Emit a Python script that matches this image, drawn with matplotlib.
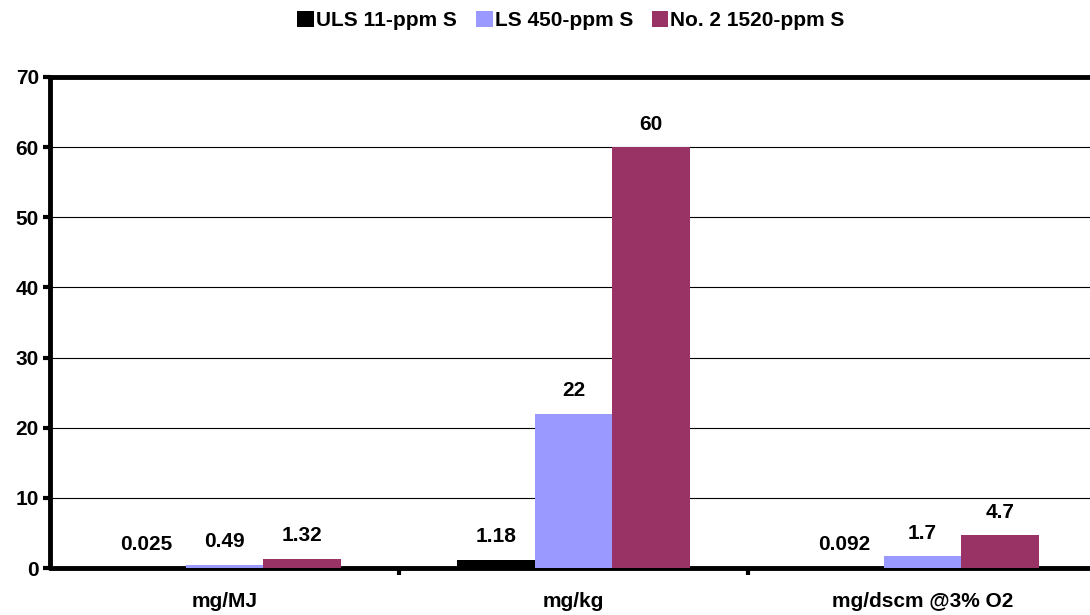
import numpy as np
import matplotlib
matplotlib.use('Agg')
import matplotlib.pyplot as plt

# data
categories = ['mg/MJ', 'mg/kg', 'mg/dscm @3% O2']
series_names = ['ULS 11-ppm S', 'LS 450-ppm S', 'No. 2 1520-ppm S']
uls = [0.025, 1.18, 0.092]
ls = [0.49, 22, 1.7]
no2 = [1.32, 60, 4.7]
labels_uls = ['0.025', '1.18', '0.092']
labels_ls = ['0.49', '22', '1.7']
labels_no2 = ['1.32', '60', '4.7']
colors = ['#000000', '#9999FF', '#993366']

plt.rcParams['font.family'] = ['Liberation Sans', 'DejaVu Sans']
plt.rcParams['font.weight'] = 'bold'

fig = plt.figure(figsize=(10.9, 6.15), dpi=100)
ax = fig.add_axes([0.0459, 0.0764, 0.9541, 0.7984])

x = np.arange(len(categories))
w = 0.223
series = [uls, ls, no2]
labels = [labels_uls, labels_ls, labels_no2]
for i, (vals, lab) in enumerate(zip(series, labels)):
    pos = x + (i - 1) * w
    ax.bar(pos, vals, width=w, color=colors[i], label=series_names[i], zorder=3)
    for px, v, t in zip(pos, vals, lab):
        ax.annotate(t, (px, v), xytext=(0, 16.5), textcoords='offset points',
                    ha='center', va='center', fontsize=15, fontweight='bold')

ax.set_xlim(-0.5, 2.48)
ax.set_ylim(0, 70)
ax.set_yticks(range(0, 71, 10))
ax.yaxis.grid(True, color='black', linewidth=0.8, zorder=0)
ax.set_axisbelow(True)

# category boundaries as major ticks, names as minor tick labels
ax.set_xticks([0.5, 1.5])
ax.set_xticklabels([])
ax.set_xticks(x, minor=True)
ax.set_xticklabels(categories, minor=True)
ax.tick_params(axis='x', which='major', direction='out', length=5, width=3)
ax.tick_params(axis='x', which='minor', length=0, pad=17, labelsize=15)
ax.tick_params(axis='y', direction='out', length=5, width=3, labelsize=15, pad=3)

ax.spines['left'].set_linewidth(3.5)
ax.spines['bottom'].set_linewidth(3.5)
ax.spines['top'].set_linewidth(3.5)
ax.spines['right'].set_visible(False)
for s in ax.spines.values():
    s.set_capstyle('round')

fig.legend(loc='center', bbox_to_anchor=(0.524, 0.967), ncol=3, frameon=False,
           fontsize=15, handlelength=0.8, handleheight=0.8, handletextpad=0.1,
           columnspacing=0.9)

plt.savefig('out.png', dpi=100)
